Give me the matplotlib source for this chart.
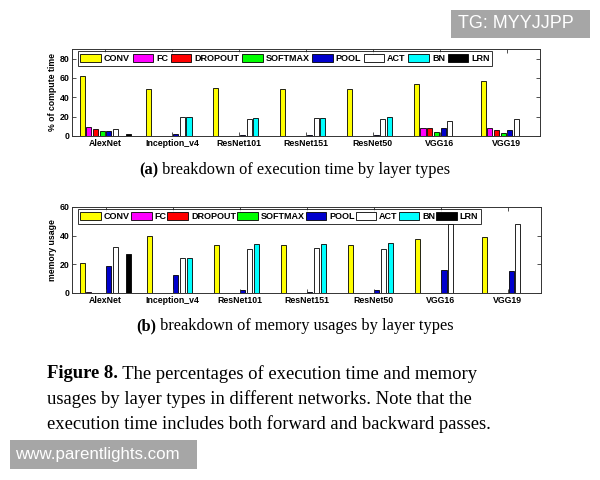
import matplotlib
matplotlib.use("Agg")
import matplotlib.pyplot as plt
import numpy as np
from matplotlib.patches import Rectangle

networks = ["AlexNet", "Inception_v4", "ResNet101", "ResNet151", "ResNet50", "VGG16", "VGG19"]
layer_types = ["CONV", "FC", "DROPOUT", "SOFTMAX", "POOL", "ACT", "BN", "LRN"]
layer_colors = ["#ffff00", "#ff00ff", "#ff0000", "#00ff00", "#0000cc", "#ffffff", "#00ffff", "#000000"]

# (a) % of compute time
conv_t = [62, 49, 50, 49, 49, 53.5, 57]
fc_t = [9, 0, 0, 0, 0, 8, 8]
dropout_t = [7.5, 0, 0, 0, 0, 8, 6.5]
softmax_t = [5, 0.3, 0.3, 0.3, 0.5, 4.5, 3.5]
pool_t = [5, 2.5, 0.8, 0.8, 1, 8, 6]
act_t = [7.5, 19.5, 17.5, 18.5, 18, 16, 17.5]
bn_t = [0, 19.5, 18.5, 19, 19.5, 0, 0]
lrn_t = [2, 0, 0, 0, 0, 0, 0]

# (b) memory usage
conv_m = [21, 39.5, 33.5, 33.5, 33.5, 38, 39]
fc_m = [0.5, 0, 0, 0, 0, 0, 0]
dropout_m = [0, 0, 0, 0, 0, 0, 0]
softmax_m = [0, 0, 0, 0, 0, 0, 0]
pool_m = [19, 12.5, 2, 1, 2.3, 16.3, 15.3]
act_m = [32, 24.5, 31, 31.7, 30.5, 47.8, 47.8]
bn_m = [0, 24.5, 34.5, 34.5, 35, 0, 0]
lrn_m = [27.5, 0, 0, 0, 0, 0, 0]

series_t = [conv_t, fc_t, dropout_t, softmax_t, pool_t, act_t, bn_t, lrn_t]
series_m = [conv_m, fc_m, dropout_m, softmax_m, pool_m, act_m, bn_m, lrn_m]

SANS = ["Liberation Sans", "DejaVu Sans"]
SERIF = ["Liberation Serif", "DejaVu Serif"]

fig = plt.figure(figsize=(6, 4.8), dpi=100)
fig.patch.set_facecolor("white")


def draw_panel(ax, series, ylim, yticks, ylabel, colspace):
    x = np.arange(1, len(networks) + 1)
    n = len(series)
    for i, (vals, col, name) in enumerate(zip(series, layer_colors, layer_types)):
        ax.bar(x + (i - (n - 1) / 2) * 0.1, vals, width=0.075, color=col,
               edgecolor="black", linewidth=0.6, label=name)
    ax.set_xlim(0.5, 7.5)
    ax.set_ylim(*ylim)
    ax.set_yticks(yticks)
    ax.set_xticks(x)
    ax.set_xticklabels(networks, fontsize=6.3, fontweight="bold", family=SANS)
    for lab in ax.get_yticklabels():
        lab.set_fontsize(6.3)
        lab.set_fontweight("bold")
        lab.set_family(SANS)
    ax.set_ylabel(ylabel, fontsize=6.3, fontweight="bold", family=SANS, labelpad=2)
    ax.tick_params(direction="in", length=3, width=0.6, top=True, right=True, pad=2,
                   color="#333333")
    for s in ax.spines.values():
        s.set_linewidth(0.7)
        s.set_color("#333333")
    leg = ax.legend(ncol=8, loc="upper left", bbox_to_anchor=(0.012, 0.975),
                    prop={"family": SANS, "weight": "bold", "size": 6.5},
                    frameon=True, fancybox=False, edgecolor="black",
                    handlelength=2.3, handleheight=1.0, handletextpad=0.3,
                    columnspacing=colspace, borderpad=0.3, borderaxespad=0)
    leg.get_frame().set_linewidth(0.7)


ax1 = fig.add_axes([0.12, 0.7167, 0.78, 0.1813])
draw_panel(ax1, series_t, (0, 90), [0, 20, 40, 60, 80], "% of compute time", 0.3)

ax2 = fig.add_axes([0.12, 0.3896, 0.782, 0.1792])
draw_panel(ax2, series_m, (0, 60), [0, 20, 40, 60], "memory usage", 0.12)

fig.canvas.draw()
renderer = fig.canvas.get_renderer()


def mixed_line(x_px, y_px, bold_part, rest, size, ha_center=False):
    # place bold + regular text on a line, coordinates in pixels from top-left
    t1 = fig.text(0, 0, bold_part, fontsize=size, fontweight="bold", family=SERIF,
                  va="center", ha="left")
    t2 = fig.text(0, 0, rest, fontsize=size, family=SERIF, va="center", ha="left")
    w1 = t1.get_window_extent(renderer).width if bold_part else 0
    w2 = t2.get_window_extent(renderer).width
    total = w1 + w2
    x0 = x_px - total / 2 if ha_center else x_px
    fy = 1 - y_px / 480
    t1.set_position((x0 / 600, fy))
    t2.set_position(((x0 + w1) / 600, fy))


mixed_line(295, 170, "(a)", " breakdown of execution time by layer types", 11.8, ha_center=True)
mixed_line(295, 326, "(b)", " breakdown of memory usages by layer types", 11.8, ha_center=True)

cap_size = 13.4
mixed_line(47, 374, "Figure 8.", " The percentages of execution time and memory", cap_size)
mixed_line(47, 399, "", "usages by layer types in different networks. Note that the", cap_size)
mixed_line(47, 424, "", "execution time includes both forward and backward passes.", cap_size)

# watermark boxes
fig.patches.append(Rectangle((451 / 600, 1 - 38 / 480), 139 / 600, 28 / 480,
                             transform=fig.transFigure, facecolor="#a6a6a6",
                             edgecolor="none", zorder=5))
fig.text(458 / 600, 1 - 24 / 480, "TG: MYYJJPP", color="white", fontsize=13,
         family=SANS, va="center", ha="left", zorder=6)
fig.patches.append(Rectangle((10 / 600, 1 - 469 / 480), 187 / 600, 29 / 480,
                             transform=fig.transFigure, facecolor="#a6a6a6",
                             edgecolor="none", zorder=5))
fig.text(15 / 600, 1 - 455 / 480, "www.parentlights.com", color="white", fontsize=12.2,
         family=SANS, va="center", ha="left", zorder=6)

fig.savefig("out.png", dpi=100, facecolor="white")
